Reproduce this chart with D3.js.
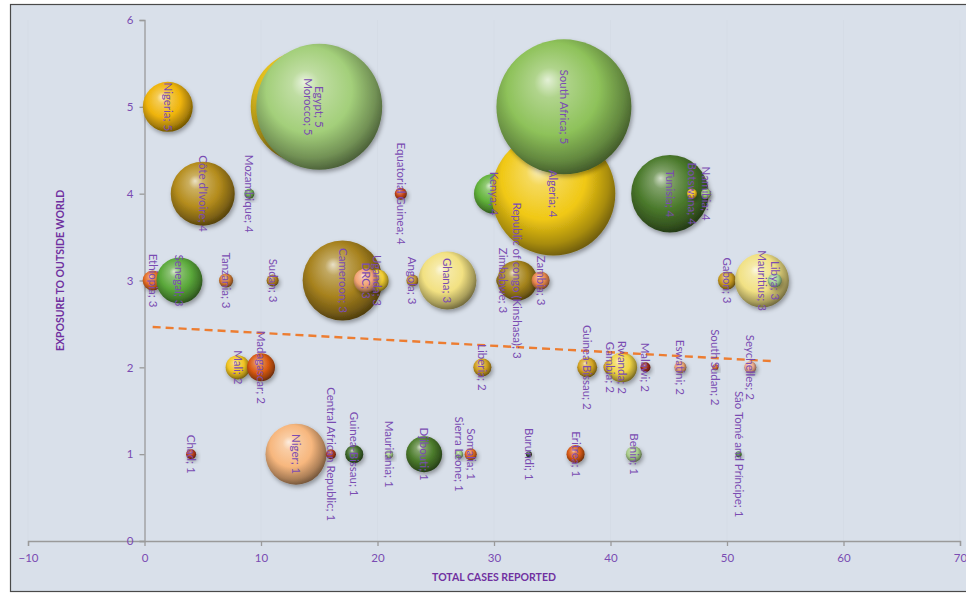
<!DOCTYPE html>
<html>
<head>
<meta charset="utf-8">
<script src="https://cdn.jsdelivr.net/npm/d3@7"></script>
<style>
  html, body { margin: 0; padding: 0; background: #ffffff; }
  svg { display: block; }
</style>
</head>
<body>
<svg id="chart" width="966" height="593"></svg>
<script>
// Countries, in drawing order (later ones are painted on top)
const countries = [
  "Nigeria", "Morocco", "Egypt", "Kenya", "Algeria", "South Africa",
  "Côte d'Ivoire", "Mozambique", "Equatorial Guinea", "Tunisia", "Botswana", "Namibia",
  "Ethiopia", "Senegal", "Tanzania", "Sudan", "Cameroon", "Uganda", "DRC", "Angola", "Ghana",
  "Zimbabwe", "Republic of congo (Kinshasa)", "Zambia", "Gabon", "Mauritius", "Libya",
  "Mali", "Madagascar", "Liberia", "Guinea-Bissau", "Gambia", "Rwanda", "Malawi", "Eswatini",
  "South Sudan", "Seychelles",
  "Chad", "Niger", "Central African Republic", "Guinea-Bissau", "Mauritania", "Djibouti",
  "Sierra Leone", "Somalia", "Burundi", "Eritrea", "Benin", "São Tomé and Príncipe"
];
// Total cases reported
const totalCases = [
  2, 14, 15, 30, 35.1, 36,
  5, 9, 22, 45.1, 47, 48.2,
  0.7, 3, 7, 11, 17, 20, 19, 23, 26,
  30.8, 32, 34, 50, 53, 54.1,
  8, 10, 29, 38, 40, 41, 43, 46,
  49, 52,
  4, 13, 16, 18, 21, 24,
  27, 28, 33, 37, 42, 51
];
// Exposure to outside world
const exposure = [
  5, 5, 5, 4, 4, 5,
  4, 4, 4, 4, 4, 4,
  3, 3, 3, 3, 3, 3, 3, 3, 3,
  3, 3, 3, 3, 3, 3,
  2, 2, 2, 2, 2, 2, 2, 2,
  2, 2,
  1, 1, 1, 1, 1, 1,
  1, 1, 1, 1, 1, 1
];
// Bubble size (relative weight)
const bubbleSize = [
  13.7, 71, 87, 8.8, 84, 100,
  22.5, 0.55, 0.8, 33, 0.55, 0.55,
  2.2, 11.6, 1.1, 0.8, 35, 2.7, 3.2, 0.8, 18.5,
  1.1, 8.8, 1.8, 1.8, 16, 1.1,
  3.2, 4.3, 1.8, 2.2, 1.1, 4.9, 0.55, 0.8,
  0.2, 0.8,
  0.55, 20.4, 0.55, 1.8, 0.35, 7.1,
  0.35, 0.8, 0.2, 1.8, 1.4, 0.2
];
// Fill colour of each bubble
const bubbleColor = [
  "#efb40a", "#e6c21e", "#a3cf7a", "#62b33a", "#f0c814", "#8ec25a",
  "#b48c1c", "#6aa84f", "#c4461a", "#4b7a2c", "#f0c020", "#9cc870",
  "#e26a22", "#5aa83a", "#d27a32", "#b08020", "#a7821e", "#f0cc30", "#f2a474", "#c09030", "#f2e182",
  "#9a7a20", "#a5841c", "#e6854a", "#c89a20", "#f1e184", "#a2d094",
  "#f0c422", "#d95a12", "#d0a020", "#d4a422", "#d0a020", "#f0d444", "#9a2a1a", "#e8a070",
  "#d06020", "#eaa68a",
  "#b83a1a", "#f7b77e", "#b03a1a", "#3f6a2a", "#a8d08a", "#4c7c2c",
  "#9cc880", "#e26a20", "#3a4a3a", "#d85a15", "#a8cc88", "#4a8a3a"
];
// Axis ticks
const xTicks = [-10, 0, 10, 20, 30, 40, 50, 60, 70];
const yTicks = [0, 1, 2, 3, 4, 5, 6];
// Linear trend: exposure = intercept + slope * cases
const trendIntercept = 2.47;
const trendSlope = -0.0074;

const svg = d3.select("#chart");
const W = 966, H = 593;

const x = d3.scaleLinear().domain([-10, 70]).range([28, 960]);
const y = d3.scaleLinear().domain([0, 6]).range([541, 20]);
const r = d3.scaleSqrt().domain([0, d3.max(bubbleSize)]).range([0, 67.5]);

const purple = "#7a4cb2";
const titlePurple = "#7030a0";

// chart area background and frame
svg.append("rect").attr("x", 10.5).attr("y", 4.5).attr("width", W - 8).attr("height", 587)
  .attr("fill", "#d9e0ea").attr("stroke", "#4a4a4a").attr("stroke-width", 1.2);

const defs = svg.append("defs");
const shadow = defs.append("filter").attr("id", "shadow")
  .attr("x", "-30%").attr("y", "-30%").attr("width", "170%").attr("height", "170%");
shadow.append("feDropShadow").attr("dx", 1.5).attr("dy", 2.5).attr("stdDeviation", 2.2)
  .attr("flood-color", "#000").attr("flood-opacity", 0.35);

// one sphere-like gradient per colour
const uniqueColors = Array.from(new Set(bubbleColor));
uniqueColors.forEach((c, i) => {
  const g = defs.append("radialGradient").attr("id", "grad" + i)
    .attr("cx", "45%").attr("cy", "42%").attr("r", "62%")
    .attr("fx", "38%").attr("fy", "30%");
  const light = d3.interpolateRgb(c, "#ffffff");
  const dark = d3.interpolateRgb(c, "#000000");
  g.append("stop").attr("offset", "0%").attr("stop-color", light(0.75));
  g.append("stop").attr("offset", "18%").attr("stop-color", light(0.3));
  g.append("stop").attr("offset", "55%").attr("stop-color", c);
  g.append("stop").attr("offset", "82%").attr("stop-color", dark(0.3));
  g.append("stop").attr("offset", "100%").attr("stop-color", dark(0.6));
});
const gradId = c => "url(#grad" + uniqueColors.indexOf(c) + ")";

// very faint vertical gridlines
const grid = svg.append("g");
grid.selectAll("line.v").data(xTicks.filter(t => t !== 0)).join("line")
  .attr("x1", d => x(d)).attr("x2", d => x(d)).attr("y1", y(6)).attr("y2", y(0))
  .attr("stroke", "#d5dce6").attr("stroke-width", 1);

// axes
const xAxis = svg.append("g").attr("transform", `translate(0,${y(0)})`)
  .call(d3.axisBottom(x).tickValues(xTicks).tickSize(5).tickPadding(8).tickFormat(d3.format("d")));
const yAxis = svg.append("g").attr("transform", `translate(${x(0)},0)`)
  .call(d3.axisLeft(y).tickValues(yTicks).tickSize(5).tickPadding(6).tickFormat(d3.format("d")));
[xAxis, yAxis].forEach(a => {
  a.select(".domain").attr("stroke", "#9a9a9a").attr("stroke-width", 1.3);
  a.selectAll(".tick line").attr("stroke", "#9a9a9a").attr("stroke-width", 1.3);
  a.selectAll(".tick text").attr("fill", purple)
    .style("font-family", "Lato, 'Open Sans', sans-serif").style("font-size", "11.5px");
});

// bubbles
const data = countries.map((name, i) => ({
  name, cases: totalCases[i], exp: exposure[i], size: bubbleSize[i], color: bubbleColor[i]
}));

svg.append("g").selectAll("circle").data(data).join("circle")
  .attr("cx", d => x(d.cases)).attr("cy", d => y(d.exp)).attr("r", d => r(d.size))
  .attr("fill", d => gradId(d.color)).attr("filter", "url(#shadow)");

// linear trendline over the range of reported cases
const xExt = d3.extent(totalCases);
svg.append("line")
  .attr("x1", x(xExt[0])).attr("y1", y(trendIntercept + trendSlope * xExt[0]))
  .attr("x2", x(xExt[1])).attr("y2", y(trendIntercept + trendSlope * xExt[1]))
  .attr("stroke", "#ed7d31").attr("stroke-width", 2.4).attr("stroke-dasharray", "8,5");

// data labels, rotated to read downwards
svg.append("g").selectAll("text").data(data).join("text")
  .attr("transform", d => `translate(${x(d.cases)},${y(d.exp)}) rotate(90)`)
  .attr("text-anchor", "middle").attr("dy", "0.35em")
  .attr("fill", purple)
  .style("font-family", "Lato, 'Open Sans', sans-serif").style("font-size", "11.5px")
  .text(d => `${d.name}; ${d.exp}`);

// axis titles
svg.append("text").attr("x", x(30)).attr("y", 581).attr("text-anchor", "middle")
  .attr("fill", titlePurple).style("font-family", "Lato, sans-serif")
  .style("font-size", "10.5px").style("font-weight", "bold")
  .text("TOTAL CASES REPORTED");
svg.append("text").attr("transform", `translate(64,${(y(0) + y(6)) / 2 - 10}) rotate(-90)`)
  .attr("text-anchor", "middle")
  .attr("fill", titlePurple).style("font-family", "Lato, sans-serif")
  .style("font-size", "10.5px").style("font-weight", "bold")
  .text("EXPOSURE TO OUTSIDE WORLD");
</script>
</body>
</html>
